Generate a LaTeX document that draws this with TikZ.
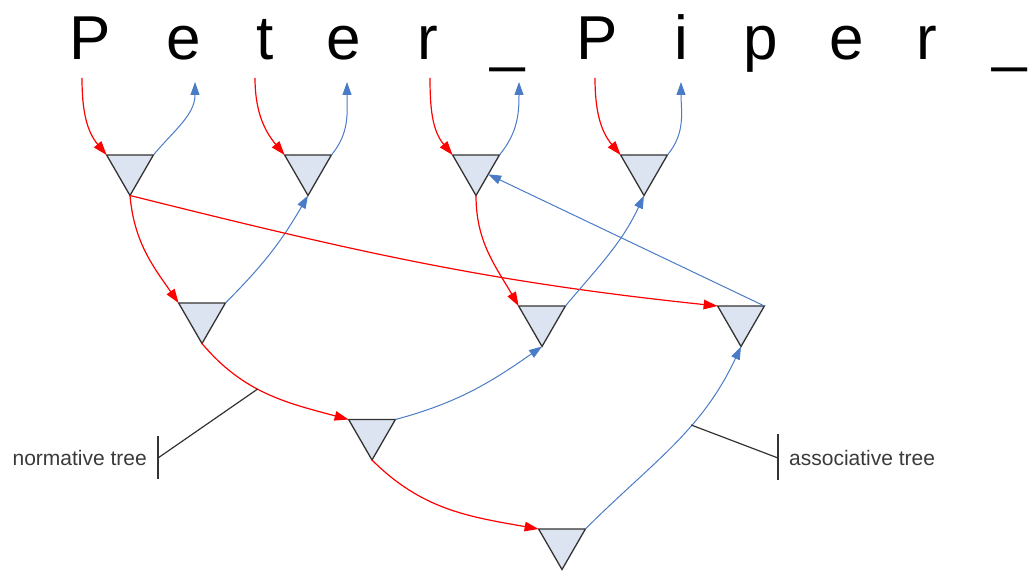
\documentclass[tikz,border=0pt]{standalone}
\usepackage{fontspec}
\setmainfont{Liberation Sans}
\usetikzlibrary{arrows.meta,shapes.geometric}
\definecolor{TreeRed}{HTML}{FF0000}
\definecolor{TreeBlue}{HTML}{4A7BC6}
\definecolor{TreeFill}{HTML}{DDE4F1}
\definecolor{TreeEdge}{HTML}{333333}
\definecolor{TreeText}{HTML}{3A3A3A}

\begin{document}
\begin{tikzpicture}[x=1pt,y=1pt]
    \tikzset{chr/.style={anchor=base,inner sep=0pt,font=\fontsize{62}{70}\selectfont},
      tri/.style={regular polygon,regular polygon sides=3,shape border rotate=180,
      minimum size=54pt,inner sep=0pt,outer sep=0pt,draw=TreeEdge,line width=1.3pt,fill=TreeFill},
      fwd/.style={TreeRed,line width=1.2pt,-{Triangle[length=14pt,width=9.5pt]}},
      bwd/.style={TreeBlue,line width=1pt,-{Triangle[length=13pt,width=9pt]}},
      lead/.style={TreeEdge,line width=1.2pt},
      lbl/.style={font=\fontsize{21}{24}\selectfont,text=TreeText,inner sep=0pt}}
    \useasboundingbox (0,0) rectangle (1028,571);
    % input string
    \node[chr] (l1) at (90,511) {P};
    \node[chr] (l2) at (184,511) {e};
    \node[chr] (l3) at (265,511) {t};
    \node[chr] (l4) at (344,511) {e};
    \node[chr] (l5) at (428,511) {r};
    \node[chr] (l6) at (508,511) {\_};
    \node[chr] (l7) at (597,511) {P};
    \node[chr] (l8) at (681,511) {i};
    \node[chr] (l9) at (761,511) {p};
    \node[chr] (l10) at (847,511) {e};
    \node[chr] (l11) at (927,511) {r};
    \node[chr] (l12) at (1010,511) {\_};
    % units
    \node[tri] (t1) at (130,402.5) {};
    \node[tri] (t2) at (308,402.5) {};
    \node[tri] (t3) at (476,402.5) {};
    \node[tri] (t4) at (644,402.5) {};
    \node[tri] (t5) at (202,254.5) {};
    \node[tri] (t6) at (542,251.5) {};
    \node[tri] (t7) at (741,251.5) {};
    \node[tri] (t8) at (372,138) {};
    \node[tri] (t9) at (562,28.5) {};
    % ends at the letters
    \coordinate (a1) at (82,493);
    \coordinate (a2) at (255,493);
    \coordinate (a3) at (430,493);
    \coordinate (a4) at (595,493);
    \coordinate (b1) at (195,489);
    \coordinate (b2) at (347,489);
    \coordinate (b3) at (519,489);
    \coordinate (b4) at (681,489);
    \draw[fwd] (a1) to[out=-90,in=130] (t1.corner 3);
    \draw[bwd] (t1.corner 2) to[out=50,in=-90] (b1);
    \draw[fwd] (a2) to[out=-90,in=130] (t2.corner 3);
    \draw[bwd] (t2.corner 2) to[out=50,in=-90] (b2);
    \draw[fwd] (a3) to[out=-90,in=130] (t3.corner 3);
    \draw[bwd] (t3.corner 2) to[out=50,in=-90] (b3);
    \draw[fwd] (a4) to[out=-90,in=130] (t4.corner 3);
    \draw[bwd] (t4.corner 2) to[out=50,in=-90] (b4);
    % tree links
    \draw[fwd] (t1.corner 1) to[out=-85,in=125] (t5.corner 3);
    \draw[bwd] (t5.corner 2) to[out=45,in=-120] (t2.corner 1);
    \draw[fwd] (t1.corner 1) to[out=-14,in=174] (t7.corner 3);
    \draw[fwd] (t3.corner 1) to[out=-90,in=120] (t6.corner 3);
    \draw[bwd] (t6.corner 2) to[out=50,in=-115] (t4.corner 1);
    \draw[bwd] (t7.corner 2) -- (t3);
    \draw[fwd] (t5.corner 1) to[out=-50,in=165] coordinate[pos=0.43] (nt) (t8.corner 3);
    \draw[bwd] (t8.corner 2) to[out=15,in=-145] (t6.corner 1);
    \draw[fwd] (t8.corner 1) to[out=-45,in=170] (t9.corner 3);
    \draw[bwd] (t9.corner 2) to[out=45,in=-115] coordinate[pos=0.62] (at) (t7.corner 1);
    % labels
    \node[lbl,anchor=east] (nl) at (147,113) {normative tree};
    \coordinate (nb) at (158,113);
    \draw[lead] ([yshift=22pt]nb) -- ([yshift=-21pt]nb);
    \draw[lead] (nb) -- (nt);
    \node[lbl,anchor=west] (al) at (789,113) {associative tree};
    \coordinate (ab) at (778,113);
    \draw[lead] ([yshift=24pt]ab) -- ([yshift=-22pt]ab);
    \draw[lead] (ab) -- (at);
  \end{tikzpicture}
\end{document}
